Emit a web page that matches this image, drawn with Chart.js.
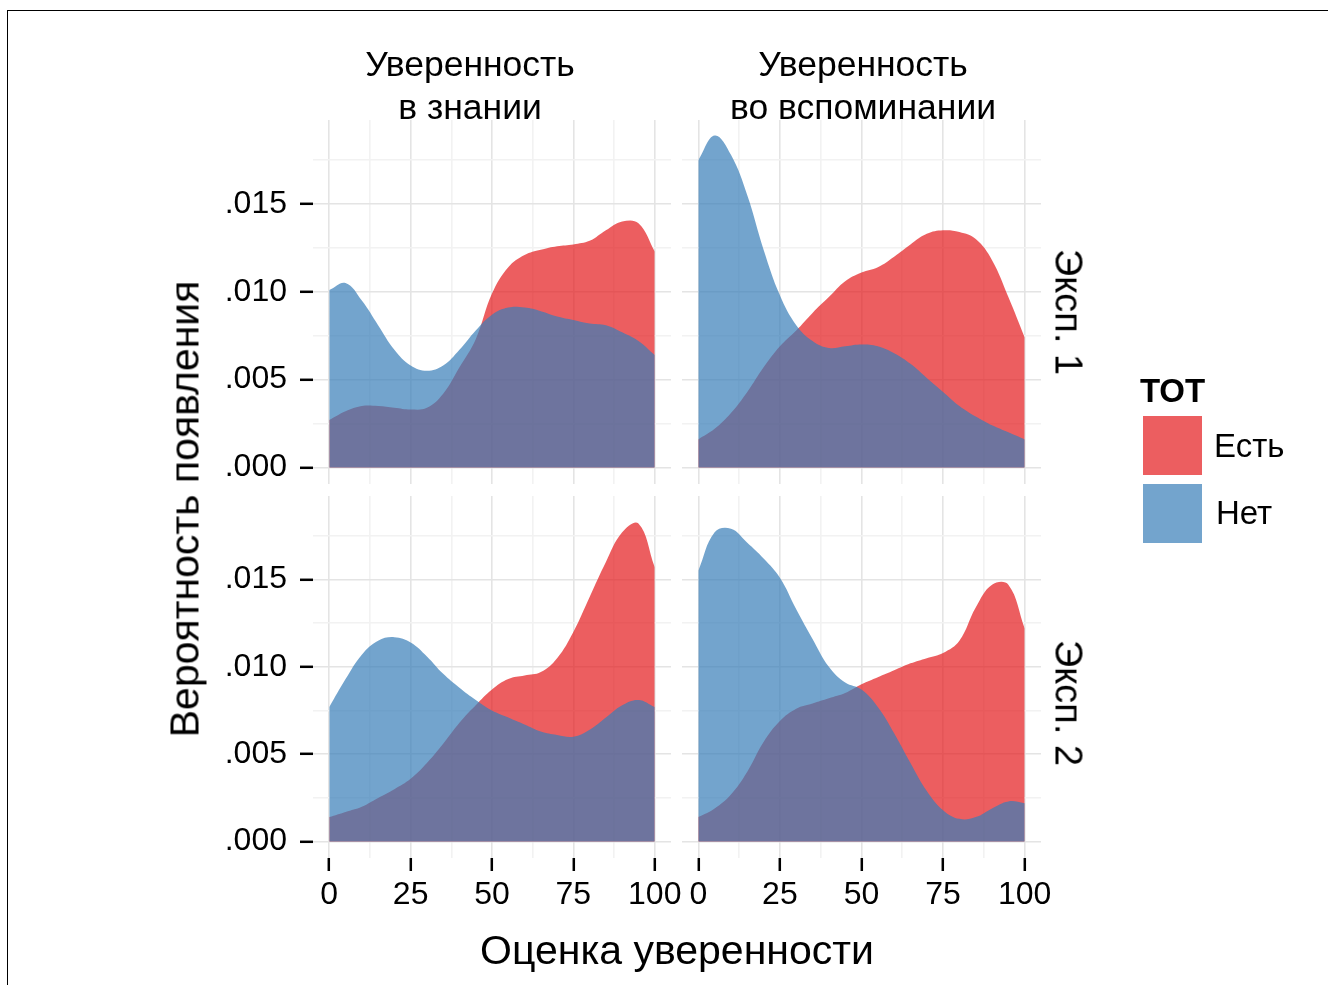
<!DOCTYPE html>
<html lang="ru">
<head>
<meta charset="utf-8">
<title>Оценка уверенности и ТОТ</title>
<script src="https://cdn.jsdelivr.net/npm/chart.js@4.4.1/dist/chart.umd.min.js"></script>
<style>
    html, body { margin: 0; padding: 0; background: #fff; overflow: hidden; }
    #page { position: relative; width: 1328px; height: 985px; font-family: "Liberation Sans", Arial, sans-serif; color: #000; }
    #frame { position: absolute; left: 7px; top: 10px; width: 1400px; height: 1000px; border-top: 1px solid #000; border-left: 1px solid #000; }
    canvas.panel { position: absolute; left: 0; top: 0; }
    .txt { position: absolute; white-space: nowrap; transform: translate(-50%, -50%); text-align: center; }
    .strip-top { font-size: 35.5px; line-height: 43px; }
    .strip-right { font-size: 38px; transform: translate(-50%, -50%) rotate(90deg); }
    .axis-title { font-size: 41px; }
    .legend-title { position: absolute; left: 1140px; top: 372px; font-size: 33px; font-weight: bold; }
    .legend-key { position: absolute; left: 1143px; width: 59px; height: 59px; }
    .legend-label { position: absolute; font-size: 33px; transform: translateY(-50%); }
</style>
</head>
<body>
<div id="page">
    <div id="frame"></div>
</div>
<script>
// x grid the densities were read at (0..100 step 5)
const xGrid = [0, 5, 10, 15, 20, 25, 30, 35, 40, 45, 50, 55, 60, 65, 70, 75, 80, 85, 90, 95, 100];

const xMajorTicks = [0, 25, 50, 75, 100];
const xMinorTicks = [12.5, 37.5, 62.5, 87.5];
const yMajorTicks = [0, 0.005, 0.01, 0.015];
const yTickLabels = [".000", ".005", ".010", ".015"];
const yMinorTicks = [0.0025, 0.0075, 0.0125, 0.0175];

const columnTitles = [["Уверенность", "в знании"], ["Уверенность", "во вспоминании"]];
const rowTitles = ["Эксп. 1", "Эксп. 2"];
const seriesLabels = ["Есть", "Нет"];
const legendTitle = "ТОТ";
const xAxisTitle = "Оценка уверенности";
const yAxisTitle = "Вероятность появления";

// Эксп. 1, уверенность в знании
const exp1KnowYes = [0.0027, 0.0032, 0.0035, 0.0035, 0.0034, 0.0033, 0.0034, 0.0042, 0.0057, 0.0073, 0.0099, 0.0114, 0.0121, 0.0124, 0.0126, 0.0127, 0.0129, 0.0135, 0.0140, 0.0139, 0.0123];
const exp1KnowNo = [0.0101, 0.0105, 0.0095, 0.0081, 0.0067, 0.0058, 0.0055, 0.0058, 0.0067, 0.0078, 0.0087, 0.0091, 0.0091, 0.0089, 0.0086, 0.0084, 0.0082, 0.0081, 0.0077, 0.0072, 0.0064];
// Эксп. 1, уверенность во вспоминании
const exp1RecallYes = [0.0016, 0.0022, 0.0031, 0.0043, 0.0057, 0.0069, 0.0078, 0.0088, 0.0097, 0.0106, 0.0111, 0.0114, 0.0120, 0.0127, 0.0133, 0.0135, 0.0134, 0.0130, 0.0118, 0.0097, 0.0074];
const exp1RecallNo = [0.0175, 0.0189, 0.0178, 0.0155, 0.0124, 0.0098, 0.0081, 0.0072, 0.0068, 0.0069, 0.0070, 0.0069, 0.0065, 0.0059, 0.0051, 0.0043, 0.0035, 0.0029, 0.0024, 0.0020, 0.0016];
// Эксп. 2, уверенность в знании
const exp2KnowYes = [0.0014, 0.0017, 0.0020, 0.0025, 0.0030, 0.0036, 0.0045, 0.0056, 0.0068, 0.0078, 0.0087, 0.0093, 0.0095, 0.0097, 0.0105, 0.0120, 0.0140, 0.0160, 0.0177, 0.0182, 0.0157];
const exp2KnowNo = [0.0077, 0.0093, 0.0107, 0.0115, 0.0117, 0.0114, 0.0106, 0.0096, 0.0088, 0.0081, 0.0075, 0.0071, 0.0067, 0.0063, 0.0061, 0.0060, 0.0064, 0.0071, 0.0078, 0.0081, 0.0077];
// Эксп. 2, уверенность во вспоминании
const exp2RecallYes = [0.0014, 0.0019, 0.0027, 0.0040, 0.0057, 0.0069, 0.0076, 0.0079, 0.0082, 0.0085, 0.0090, 0.0094, 0.0098, 0.0102, 0.0105, 0.0108, 0.0115, 0.0134, 0.0147, 0.0147, 0.0122];
const exp2RecallNo = [0.0155, 0.0177, 0.0179, 0.0171, 0.0162, 0.0151, 0.0133, 0.0116, 0.0100, 0.0091, 0.0087, 0.0077, 0.0062, 0.0045, 0.0029, 0.0018, 0.0013, 0.0014, 0.0019, 0.0023, 0.0022];

const PAGE_W = 1328;
const PAGE_H = 985;
const FONT_FAMILY = "'Liberation Sans', Arial, sans-serif";
const RED = "rgba(228, 26, 28, 0.7)";
const BLUE = "rgba(55, 126, 184, 0.7)";
const Y_AXIS_W = 113;
const X_AXIS_H = 60;

// ggplot-like expanded limits
const X_MIN = -5, X_MAX = 105;
const Y_MIN = -0.00094, Y_MAX = 0.01978;

const panels = [
    { yes: exp1KnowYes, no: exp1KnowNo, area: { left: 313, top: 120, right: 671, bottom: 484 }, showX: false, showY: true },
    { yes: exp1RecallYes, no: exp1RecallNo, area: { left: 682, top: 120, right: 1041, bottom: 484 }, showX: false, showY: false },
    { yes: exp2KnowYes, no: exp2KnowNo, area: { left: 313, top: 496, right: 671, bottom: 858 }, showX: true, showY: true },
    { yes: exp2RecallYes, no: exp2RecallNo, area: { left: 682, top: 496, right: 1041, bottom: 858 }, showX: true, showY: false },
];

function toPoints(values) {
    return values.map((y, i) => ({ x: xGrid[i], y }));
}

function gridOptions(majors, showTicks) {
    const isMajor = (ctx) => ctx.tick && majors.includes(ctx.tick.value);
    return {
        color: (ctx) => (isMajor(ctx) ? "#e4e4e4" : "#f2f2f2"),
        lineWidth: 1.6,
        drawTicks: showTicks,
        tickLength: 13,
        tickColor: (ctx) => (isMajor(ctx) ? "#000" : "rgba(0,0,0,0)"),
        tickWidth: (ctx) => (isMajor(ctx) ? 2.5 : 0),
    };
}

function buildPanel(panel) {
    const canvas = document.createElement("canvas");
    canvas.width = PAGE_W;
    canvas.height = PAGE_H;
    canvas.className = "panel";
    document.getElementById("page").appendChild(canvas);

    const yw = panel.showY ? Y_AXIS_W : 0;
    const xh = panel.showX ? X_AXIS_H : 0;
    const a = panel.area;

    new Chart(canvas, {
        type: "line",
        data: {
            datasets: [
                { label: seriesLabels[0], data: toPoints(panel.yes), backgroundColor: RED, borderColor: "rgba(0,0,0,0)", borderWidth: 0, fill: "origin", order: 2 },
                { label: seriesLabels[1], data: toPoints(panel.no), backgroundColor: BLUE, borderColor: "rgba(0,0,0,0)", borderWidth: 0, fill: "origin", order: 1 },
            ],
        },
        options: {
            responsive: false,
            animation: false,
            devicePixelRatio: 1,
            layout: {
                padding: { left: a.left - yw, top: a.top, right: PAGE_W - a.right, bottom: PAGE_H - a.bottom - xh },
            },
            elements: {
                point: { radius: 0 },
                line: { tension: 0.4 },
            },
            plugins: {
                legend: { display: false },
                tooltip: { enabled: false },
            },
            scales: {
                x: {
                    type: "linear",
                    min: X_MIN,
                    max: X_MAX,
                    afterBuildTicks: (scale) => {
                        scale.ticks = xMajorTicks.concat(xMinorTicks).map((v) => ({ value: v }));
                    },
                    afterFit: (scale) => { scale.height = xh; },
                    border: { display: false },
                    grid: gridOptions(xMajorTicks, panel.showX),
                    ticks: {
                        display: panel.showX,
                        autoSkip: false,
                        maxRotation: 0,
                        padding: 5,
                        color: "#000",
                        font: { family: FONT_FAMILY, size: 32 },
                        callback: (value) => (xMajorTicks.includes(value) ? String(value) : ""),
                    },
                },
                y: {
                    type: "linear",
                    min: Y_MIN,
                    max: Y_MAX,
                    afterBuildTicks: (scale) => {
                        scale.ticks = yMajorTicks.concat(yMinorTicks).map((v) => ({ value: v }));
                    },
                    afterFit: (scale) => { scale.width = yw; },
                    border: { display: false },
                    grid: gridOptions(yMajorTicks, panel.showY),
                    ticks: {
                        display: panel.showY,
                        autoSkip: false,
                        padding: 13,
                        color: "#000",
                        font: { family: FONT_FAMILY, size: 32 },
                        callback: (value) => {
                            const idx = yMajorTicks.indexOf(value);
                            return idx >= 0 ? yTickLabels[idx] : "";
                        },
                    },
                },
            },
        },
    });
}

function addText(className, text, x, y, html) {
    const el = document.createElement("div");
    el.className = className;
    if (html) el.innerHTML = text; else el.textContent = text;
    el.style.left = x + "px";
    el.style.top = y + "px";
    document.getElementById("page").appendChild(el);
    return el;
}

function buildLabels() {
    // facet strips
    addText("txt strip-top", columnTitles[0].join("<br>"), 470, 86, true);
    addText("txt strip-top", columnTitles[1].join("<br>"), 863, 86, true);
    addText("txt strip-right", rowTitles[0], 1068, 312);
    addText("txt strip-right", rowTitles[1], 1068, 703);

    // axis titles
    addText("txt axis-title", xAxisTitle, 677, 950);
    const yTitle = addText("txt axis-title", yAxisTitle, 185, 509);
    yTitle.style.transform = "translate(-50%, -50%) rotate(-90deg)";

    // legend
    const page = document.getElementById("page");
    const title = document.createElement("div");
    title.className = "legend-title";
    title.textContent = legendTitle;
    page.appendChild(title);

    [RED, BLUE].forEach((color, i) => {
        const key = document.createElement("div");
        key.className = "legend-key";
        key.style.top = (416 + i * 68) + "px";
        key.style.background = color;
        page.appendChild(key);

        const label = document.createElement("div");
        label.className = "legend-label";
        label.textContent = seriesLabels[i];
        label.style.left = (1214 + i * 2) + "px";
        label.style.top = (446 + i * 67) + "px";
        page.appendChild(label);
    });
}

document.addEventListener("DOMContentLoaded", () => {
    panels.forEach(buildPanel);
    buildLabels();
});
</script>
</body>
</html>
